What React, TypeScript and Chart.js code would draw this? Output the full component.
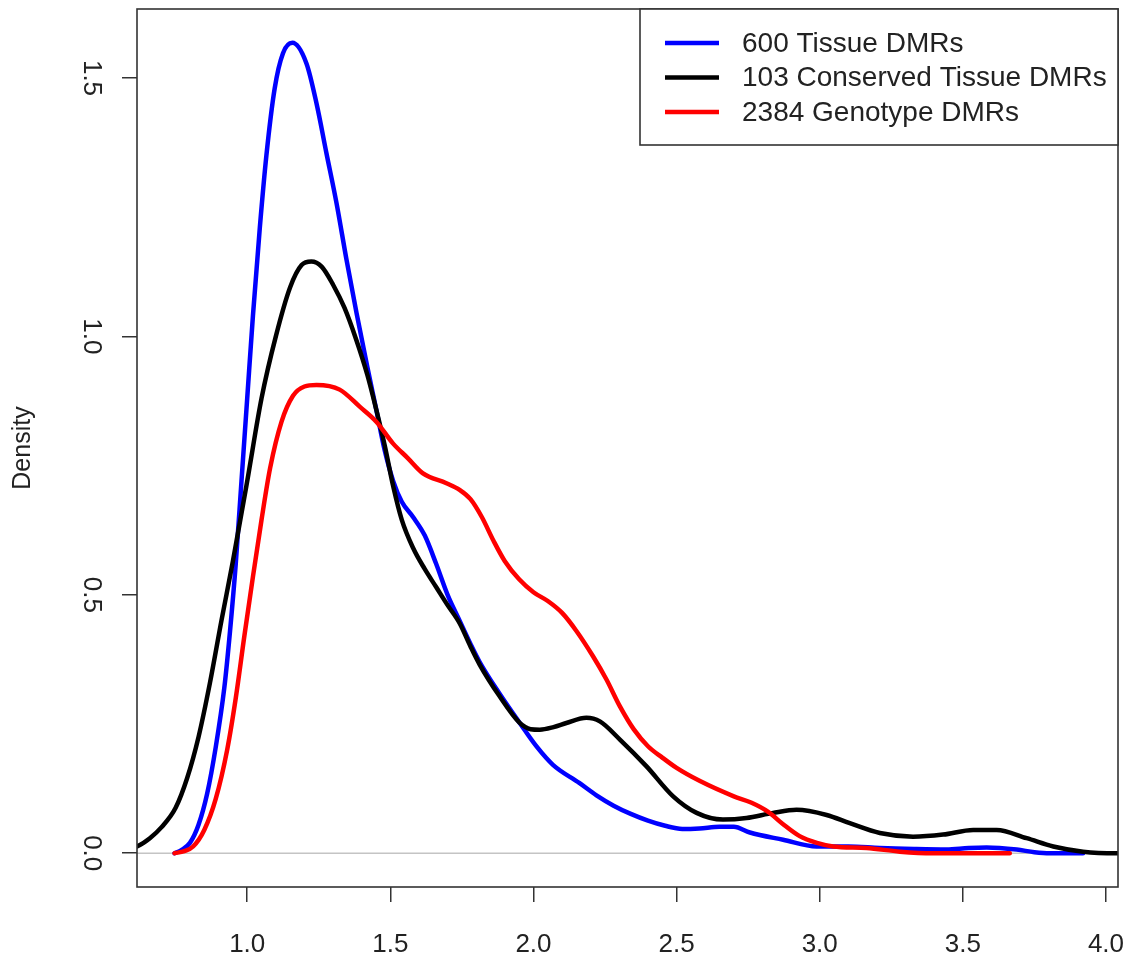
import React, { useEffect, useRef } from 'react';
import { Chart, registerables } from 'chart.js';

Chart.register(...registerables);

const seriesLabels = ['600 Tissue DMRs', '103 Conserved Tissue DMRs', '2384 Genotype DMRs'];
const seriesColors = ['#0000ff', '#000000', '#ff0000'];

const blueX = [0.746, 0.770, 0.800, 0.830, 0.860, 0.890, 0.920, 0.940, 0.960, 0.980, 1.000, 1.020, 1.044, 1.067, 1.096, 1.125, 1.158, 1.207, 1.242, 1.277, 1.312, 1.347, 1.382, 1.420, 1.451, 1.480, 1.510, 1.540, 1.580, 1.620, 1.660, 1.700, 1.742, 1.780, 1.812, 1.880, 1.952, 2.010, 2.068, 2.160, 2.220, 2.280, 2.340, 2.400, 2.460, 2.520, 2.580, 2.650, 2.700, 2.756, 2.872, 2.989, 3.100, 3.210, 3.330, 3.443, 3.520, 3.583, 3.688, 3.750, 3.804, 3.920];
const blueY = [0.000, 0.006, 0.020, 0.055, 0.115, 0.205, 0.320, 0.430, 0.560, 0.720, 0.880, 1.040, 1.210, 1.350, 1.480, 1.548, 1.568, 1.528, 1.451, 1.354, 1.258, 1.148, 1.045, 0.940, 0.858, 0.780, 0.720, 0.680, 0.650, 0.615, 0.560, 0.500, 0.450, 0.405, 0.370, 0.310, 0.252, 0.207, 0.171, 0.136, 0.112, 0.092, 0.076, 0.063, 0.053, 0.047, 0.048, 0.051, 0.051, 0.040, 0.026, 0.013, 0.013, 0.010, 0.008, 0.007, 0.010, 0.011, 0.007, 0.002, 0.000, 0.000];

const blackX = [0.600, 0.615, 0.660, 0.700, 0.750, 0.790, 0.830, 0.870, 0.910, 0.950, 1.000, 1.050, 1.100, 1.150, 1.190, 1.224, 1.260, 1.300, 1.340, 1.380, 1.420, 1.451, 1.480, 1.510, 1.540, 1.580, 1.620, 1.660, 1.700, 1.742, 1.780, 1.812, 1.880, 1.952, 1.990, 2.022, 2.070, 2.115, 2.185, 2.232, 2.302, 2.395, 2.488, 2.570, 2.662, 2.744, 2.837, 2.919, 3.024, 3.105, 3.210, 3.326, 3.431, 3.536, 3.618, 3.723, 3.816, 3.920, 4.037, 4.100];
const blackY = [0.011, 0.013, 0.029, 0.050, 0.088, 0.145, 0.225, 0.330, 0.450, 0.565, 0.720, 0.880, 1.000, 1.095, 1.138, 1.145, 1.135, 1.100, 1.055, 0.995, 0.925, 0.858, 0.790, 0.710, 0.645, 0.590, 0.550, 0.515, 0.480, 0.445, 0.400, 0.365, 0.305, 0.252, 0.240, 0.239, 0.244, 0.252, 0.262, 0.255, 0.220, 0.168, 0.110, 0.078, 0.065, 0.068, 0.078, 0.084, 0.074, 0.058, 0.039, 0.032, 0.036, 0.045, 0.045, 0.029, 0.013, 0.003, 0.000, 0.000];

const redX = [0.746, 0.780, 0.811, 0.850, 0.890, 0.930, 0.960, 0.990, 1.020, 1.050, 1.080, 1.120, 1.160, 1.200, 1.242, 1.323, 1.393, 1.451, 1.509, 1.560, 1.614, 1.696, 1.742, 1.780, 1.820, 1.860, 1.900, 1.950, 2.000, 2.050, 2.100, 2.150, 2.208, 2.255, 2.302, 2.350, 2.400, 2.450, 2.500, 2.580, 2.700, 2.760, 2.820, 2.870, 2.930, 2.990, 3.047, 3.164, 3.280, 3.396, 3.664];
const redY = [0.000, 0.004, 0.013, 0.045, 0.105, 0.200, 0.300, 0.420, 0.535, 0.645, 0.745, 0.835, 0.885, 0.903, 0.906, 0.897, 0.864, 0.835, 0.793, 0.765, 0.735, 0.716, 0.703, 0.685, 0.650, 0.605, 0.565, 0.530, 0.505, 0.488, 0.465, 0.430, 0.381, 0.336, 0.284, 0.240, 0.207, 0.185, 0.165, 0.140, 0.110, 0.098, 0.080, 0.057, 0.033, 0.020, 0.013, 0.010, 0.003, 0.000, 0.000];

const xTicks = [1.0, 1.5, 2.0, 2.5, 3.0, 3.5, 4.0];
const yTicks = [0.0, 0.5, 1.0, 1.5];
const xMin = 0.615;
const xMax = 4.042;
const yMin = -0.0654;
const yMax = 1.6335;

const FONT = '"Liberation Sans", Arial, Helvetica, sans-serif';

const toPoints = (xs: number[], ys: number[]) => xs.map((x, i) => ({ x, y: ys[i] }));

const framePlugin = {
  id: 'rframe',
  beforeDatasetsDraw(chart: any) {
    const { ctx, chartArea } = chart;
    const y0 = chart.scales.y.getPixelForValue(0);
    ctx.save();
    ctx.strokeStyle = '#c4c4c4';
    ctx.lineWidth = 1.5;
    ctx.beginPath();
    ctx.moveTo(chartArea.left, y0);
    ctx.lineTo(chartArea.right, y0);
    ctx.stroke();
    ctx.restore();
  },
  afterDraw(chart: any) {
    const { ctx, chartArea } = chart;
    ctx.save();
    ctx.strokeStyle = '#333333';
    ctx.lineWidth = 1.6;
    ctx.strokeRect(chartArea.left, chartArea.top, chartArea.right - chartArea.left, chartArea.bottom - chartArea.top);

    // legend box
    const w = 478;
    const h = 136;
    const left = chartArea.right - w;
    const top = chartArea.top;
    ctx.fillStyle = '#ffffff';
    ctx.fillRect(left, top, w, h);
    ctx.strokeRect(left, top, w, h);
    ctx.font = `28px ${FONT}`;
    ctx.textBaseline = 'middle';
    ctx.textAlign = 'left';
    chart.data.datasets.forEach((ds: any, i: number) => {
      const y = top + 34 + i * 34.5;
      ctx.strokeStyle = ds.borderColor;
      ctx.lineWidth = 4.5;
      ctx.beginPath();
      ctx.moveTo(left + 25, y);
      ctx.lineTo(left + 79, y);
      ctx.stroke();
      ctx.fillStyle = '#222222';
      ctx.fillText(ds.label, left + 102, y + 1);
    });
    ctx.restore();
  },
};

export default function App() {
  const ref = useRef<HTMLCanvasElement | null>(null);

  useEffect(() => {
    if (!ref.current) return;
    const chart = new Chart(ref.current, {
      type: 'line',
      data: {
        datasets: [
          { label: seriesLabels[0], data: toPoints(blueX, blueY), borderColor: seriesColors[0], order: 2 },
          { label: seriesLabels[1], data: toPoints(blackX, blackY), borderColor: seriesColors[1], order: 1 },
          { label: seriesLabels[2], data: toPoints(redX, redY), borderColor: seriesColors[2], order: 0 },
        ],
      },
      options: {
        responsive: false,
        maintainAspectRatio: false,
        animation: false,
        events: [],
        layout: { padding: { left: 0, right: 18, top: 9, bottom: 0 } },
        elements: {
          point: { radius: 0 },
          line: { borderWidth: 4.5, cubicInterpolationMode: 'monotone', fill: false, borderCapStyle: 'round', borderJoinStyle: 'round' },
        },
        plugins: {
          legend: { display: false },
          tooltip: { enabled: false },
        },
        scales: {
          x: {
            type: 'linear',
            min: xMin,
            max: xMax,
            afterBuildTicks: (s: any) => {
              s.ticks = xTicks.map((v) => ({ value: v }));
            },
            afterFit: (s: any) => {
              s.height = 74;
              s.paddingLeft = 0;
              s.paddingRight = 0;
            },
            grid: { display: true, drawOnChartArea: false, drawTicks: true, tickLength: 15, color: '#333333', lineWidth: 1.5 },
            border: { display: false },
            ticks: {
              font: { family: FONT, size: 26 },
              color: '#222222',
              padding: 27,
              maxRotation: 0,
              minRotation: 0,
              callback: (v: any) => Number(v).toFixed(1),
            },
          },
          y: {
            type: 'linear',
            min: yMin,
            max: yMax,
            afterBuildTicks: (s: any) => {
              s.ticks = yTicks.map((v) => ({ value: v }));
            },
            afterFit: (s: any) => {
              s.width = 137;
              s.paddingTop = 0;
              s.paddingBottom = 0;
            },
            grid: { display: true, drawOnChartArea: false, drawTicks: true, tickLength: 15, color: '#333333', lineWidth: 1.5 },
            border: { display: false },
            title: {
              display: true,
              text: 'Density',
              font: { family: FONT, size: 25 },
              color: '#222222',
              padding: { top: 8, bottom: 0 },
            },
            ticks: {
              font: { family: FONT, size: 26 },
              color: '#222222',
              padding: 13,
              minRotation: -90,
              maxRotation: -90,
              crossAlign: 'center',
              callback: (v: any) => Number(v).toFixed(1),
            },
          },
        },
      },
      plugins: [framePlugin],
    } as any);
    return () => chart.destroy();
  }, []);

  return (
    <div style={{ position: 'absolute', left: 0, top: 0, width: 1136, height: 961, background: '#ffffff' }}>
      <canvas ref={ref} width={1136} height={961} style={{ display: 'block', width: 1136, height: 961 }} />
    </div>
  );
}
